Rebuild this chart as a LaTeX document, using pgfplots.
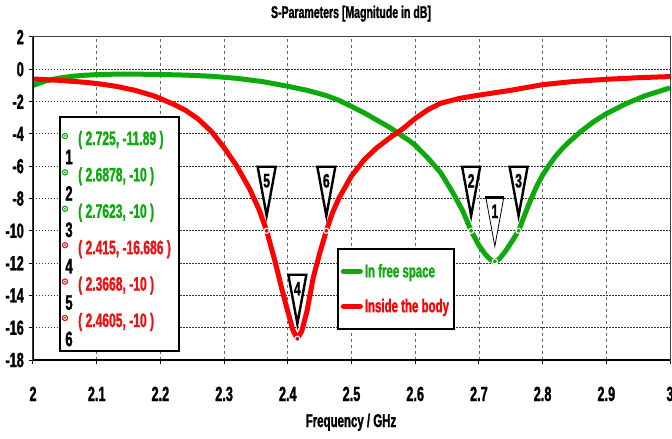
\documentclass[border=0pt]{standalone}
\usepackage{pgfplots}
\pgfplotsset{compat=1.18}
\usepackage{fontspec}
\setmainfont{Liberation Sans}[FakeStretch=0.62, BoldFeatures={FakeBold=1.3}]
\definecolor{fsgreen}{RGB}{12,170,12}
\definecolor{bdred}{RGB}{255,0,0}
\definecolor{txtred}{RGB}{235,20,20}
\pgfdeclareplotmark{flagtri}{%
  \pgfpathmoveto{\pgfqpoint{-9pt}{64pt}}%
  \pgfpathlineto{\pgfqpoint{9pt}{64pt}}%
  \pgfpathlineto{\pgfqpoint{0pt}{15pt}}%
  \pgfpathclose
  \pgfusepathqfillstroke
  \pgfsetlinewidth{2.4pt}%
  \pgfpathmoveto{\pgfqpoint{-9.5pt}{64pt}}%
  \pgfpathlineto{\pgfqpoint{9.5pt}{64pt}}%
  \pgfusepathqstroke
}
\begin{document}
\bfseries
\begin{tikzpicture}
\useasboundingbox (-33pt,-79pt) rectangle (639pt,360pt);
\begin{axis}[
  width=637pt, height=323pt, scale only axis,
  xmin=2, xmax=3, ymin=-18, ymax=2,
  xtick={2,2.1,2.2,2.3,2.4,2.5,2.6,2.7,2.8,2.9,3},
  ytick={-18,-16,-14,-12,-10,-8,-6,-4,-2,0,2},
  /pgf/number format/assume math mode=true,
  tick label style={font=\fontsize{20.5}{20.5}\selectfont},
  xticklabel style={anchor=base, yshift=-37pt, inner sep=0pt},
  yticklabel style={anchor=east, inner sep=0pt, xshift=-5pt},
  tick align=outside, major tick length=4pt,
  tick style={black, line width=1pt},
  xtick pos=left, ytick pos=left,
  xmajorgrids, ymajorgrids,
  x grid style={draw=black!60, line width=0.8pt, dash pattern=on 3pt off 3pt},
  y grid style={draw=black!80, line width=1pt, dash pattern=on 1.5pt off 1.5pt},
  axis line style={line width=1pt, draw=black!75},
  title={S-Parameters [Magnitude in dB]},
  title style={at={(0.4992,1)}, anchor=base, yshift=13pt, font=\fontsize{17}{17}\selectfont, inner sep=0pt},
  xlabel={Frequency / GHz},
  xlabel style={at={(axis description cs:0.4992,0)}, anchor=base, yshift=-67pt, font=\fontsize{18.5}{18.5}\selectfont, inner sep=0pt},
  legend style={at={(0.477,0.347)}, anchor=north west, draw=black, line width=2pt, fill=white,
    font=\fontsize{18.5}{18.5}\selectfont, inner xsep=3pt, inner ysep=13pt, row sep=16pt},
  legend cell align=left,
  legend image code/.code={\draw[line width=5pt, line cap=round] (0pt,0pt) -- (17pt,0pt);},
]
\addplot[fsgreen, line width=5pt, line join=round] coordinates {
(2.00,-1.00) (2.02,-0.72) (2.04,-0.55) (2.06,-0.44) (2.08,-0.37) (2.10,-0.33)
(2.13,-0.30) (2.16,-0.30) (2.20,-0.32) (2.24,-0.36) (2.28,-0.43) (2.32,-0.56)
(2.36,-0.76) (2.40,-1.05) (2.43,-1.30) (2.46,-1.62) (2.48,-1.92) (2.50,-2.30)
(2.52,-2.70) (2.54,-3.15) (2.56,-3.60) (2.573,-3.95) (2.59,-4.40) (2.60,-4.70)
(2.62,-5.50) (2.64,-6.40) (2.66,-7.70) (2.675,-8.80) (2.6878,-10.00) (2.70,-10.90)
(2.71,-11.45) (2.718,-11.78) (2.725,-11.89) (2.732,-11.75) (2.742,-11.25) (2.752,-10.65)
(2.7623,-10.00) (2.77,-9.20) (2.78,-8.20) (2.79,-7.30) (2.80,-6.55) (2.81,-5.95)
(2.82,-5.40) (2.83,-4.95) (2.84,-4.55) (2.86,-3.85) (2.88,-3.25) (2.90,-2.75)
(2.93,-2.15) (2.96,-1.65) (2.98,-1.40) (3.00,-1.15)
};
\addlegendentry{\textcolor{fsgreen}{In free space}}
\addplot[bdred, line width=5pt, line join=round] coordinates {
(2.00,-0.60) (2.04,-0.68) (2.08,-0.80) (2.10,-0.88) (2.13,-1.05) (2.16,-1.30)
(2.19,-1.65) (2.22,-2.15) (2.24,-2.55) (2.26,-3.10) (2.28,-3.85) (2.30,-4.85)
(2.32,-6.00) (2.34,-7.40) (2.355,-8.70) (2.3668,-10.00) (2.38,-11.90) (2.39,-13.50)
(2.40,-15.00) (2.408,-16.15) (2.415,-16.686) (2.422,-16.20) (2.43,-15.00) (2.44,-12.90)
(2.45,-11.40) (2.4605,-10.00) (2.47,-8.90) (2.48,-8.00) (2.50,-6.60) (2.52,-5.60)
(2.54,-4.85) (2.56,-4.25) (2.58,-3.70) (2.60,-3.05) (2.62,-2.50) (2.64,-2.10)
(2.67,-1.80) (2.70,-1.60) (2.75,-1.30) (2.80,-0.95) (2.85,-0.75) (2.90,-0.62)
(2.95,-0.52) (3.00,-0.45)
};
\addlegendentry{\textcolor{bdred}{Inside the body}}
\addplot[forget plot, only marks, mark=o, mark size=2.6pt, mark options={draw=white, line width=1.1pt}]
  coordinates {(2.725,-11.89) (2.6878,-10) (2.7623,-10) (2.415,-16.686) (2.3668,-10) (2.4605,-10)};
\addplot[forget plot, only marks, mark=flagtri, mark options={fill=white, draw=black, line width=0.8pt},
  nodes near coords, point meta=explicit symbolic,
  nodes near coords style={anchor=center, yshift=50pt, font=\fontsize{19.5}{19.5}\selectfont, text=black, inner sep=0pt}]
  coordinates {(2.725,-11.89)[1] (2.6878,-10)[2] (2.7623,-10)[3] (2.415,-16.686)[4] (2.3668,-10)[5] (2.4605,-10)[6]};
\draw[black, line width=2pt] (rel axis cs:0,1) -- (rel axis cs:0,0) -- (rel axis cs:1,0);
\end{axis}
\draw[line width=2pt, fill=white] (27pt,9pt) rectangle (146pt,243pt);
\foreach \y/\c/\n/\t in {220/fsgreen/1/{( 2.725, -11.89 )}, 183.6/fsgreen/2/{( 2.6878, -10 )}, 147.2/fsgreen/3/{( 2.7623, -10 )}, 110.8/txtred/4/{( 2.415, -16.686 )}, 74.4/txtred/5/{( 2.3668, -10 )}, 38/txtred/6/{( 2.4605, -10 )}} {
  \node[anchor=west, text=\c, font=\fontsize{19.5}{19.5}\selectfont, inner sep=0pt] at (45pt,\y pt) {\t};
  \node[font=\fontsize{21}{21}\selectfont, inner sep=0pt, yshift=-17pt] at (36pt,\y pt) {\n};
  \draw[\c, line width=1.1pt, fill=white] ([yshift=4pt]32pt,\y pt) circle (2.6pt);
  \fill[\c] ([yshift=4pt]32pt,\y pt) circle (1pt);
}
\end{tikzpicture}
\end{document}
